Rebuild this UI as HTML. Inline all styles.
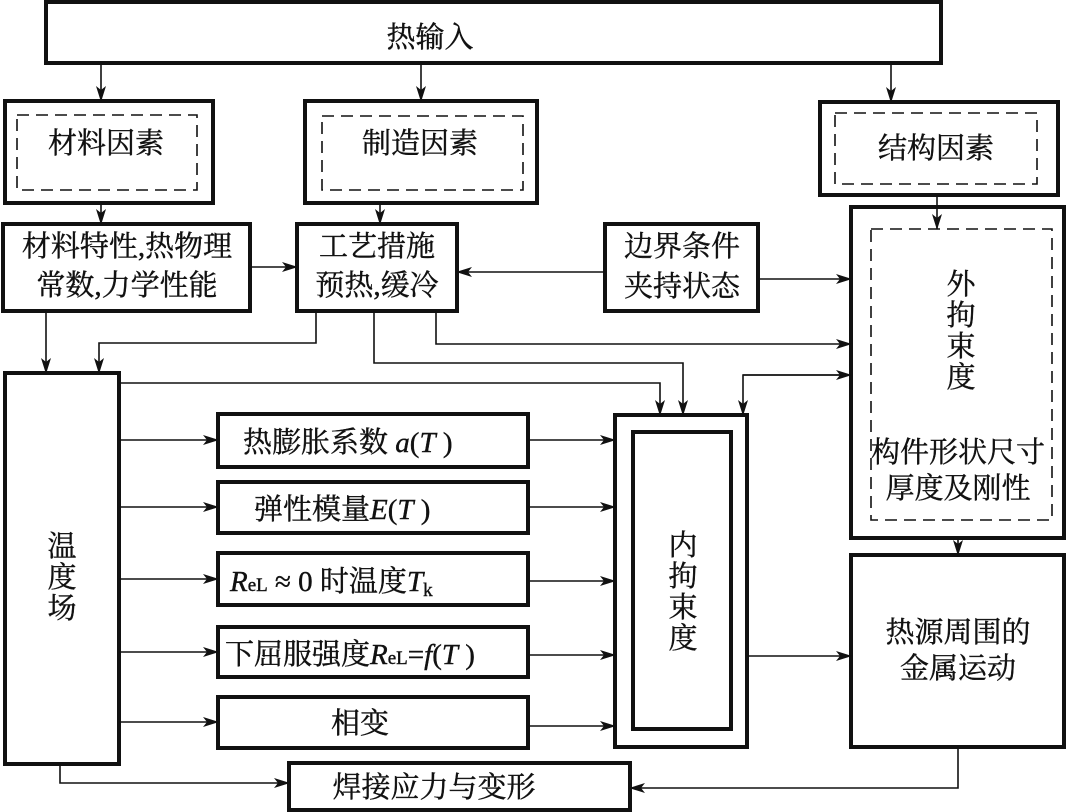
<!DOCTYPE html>
<html><head><meta charset="utf-8"><style>
html,body{margin:0;padding:0;background:#fff}
svg{display:block}
text{font-family:"Liberation Serif","Noto Serif CJK SC","Noto Sans CJK SC",serif;font-size:29px;fill:#111;stroke:#111;stroke-width:0.4}
.i{font-family:"Liberation Serif",serif;font-style:italic}
</style></head><body>
<svg width="1067" height="812" viewBox="0 0 1067 812" xmlns="http://www.w3.org/2000/svg">
<defs>
<marker id="a" markerUnits="userSpaceOnUse" markerWidth="16" markerHeight="10" refX="15" refY="5" orient="auto">
<path d="M0,0 L16,5 L0,10 L4,5 z" fill="#111"/>
</marker>
</defs>
<g fill="none" stroke="#111" stroke-width="4">
<rect x="46" y="2" width="895" height="61"/>
<rect x="5" y="101" width="208" height="102"/>
<rect x="305" y="101" width="232" height="102"/>
<rect x="820" y="102" width="238" height="93"/>
<rect x="3" y="224" width="247" height="87"/>
<rect x="297" y="224" width="160" height="87"/>
<rect x="605" y="224" width="153" height="87"/>
<rect x="851" y="207" width="213" height="331"/>
<rect x="5" y="373" width="114" height="391"/>
<rect x="218" y="414" width="310" height="53"/>
<rect x="218" y="482" width="310" height="51"/>
<rect x="218" y="553" width="310" height="52"/>
<rect x="218" y="627" width="310" height="50"/>
<rect x="218" y="697" width="310" height="51"/>
<rect x="615" y="415" width="132" height="332"/>
<rect x="633" y="432" width="98" height="297"/>
<rect x="851" y="555" width="213" height="192"/>
<rect x="289" y="763" width="341" height="47"/>
</g>
<g fill="none" stroke="#111" stroke-width="1.6" stroke-dasharray="12,7">
<rect x="17" y="115" width="180" height="75"/>
<rect x="322" y="116" width="201" height="74"/>
<rect x="835" y="113" width="202" height="71"/>
<rect x="871" y="229" width="181" height="291"/>
</g>
<g fill="none" stroke="#111" stroke-width="1.6" marker-end="url(#a)">
<line x1="101" y1="63" x2="101" y2="101"/>
<line x1="421" y1="63" x2="421" y2="101"/>
<line x1="891" y1="63" x2="891" y2="102"/>
<line x1="101" y1="203" x2="101" y2="224"/>
<line x1="380" y1="203" x2="380" y2="224"/>
<line x1="937" y1="195" x2="937" y2="229"/>
<line x1="250" y1="267" x2="297" y2="267"/>
<line x1="605" y1="272" x2="457" y2="272"/>
<line x1="758" y1="279" x2="851" y2="279"/>
<line x1="46" y1="311" x2="46" y2="373"/>
<polyline points="316,311 316,343 99,343 99,373"/>
<polyline points="374,311 374,363 683,363 683,415"/>
<polyline points="436,311 436,344 851,344"/>
<polyline points="119,383 660,383 660,415"/>
<polyline points="851,375 743,375 743,415"/>
<line x1="743" y1="375" x2="851" y2="375"/>
<line x1="119" y1="440" x2="218" y2="440"/>
<line x1="119" y1="507" x2="218" y2="507"/>
<line x1="119" y1="579" x2="218" y2="579"/>
<line x1="119" y1="652" x2="218" y2="652"/>
<line x1="119" y1="722" x2="218" y2="722"/>
<line x1="528" y1="440" x2="615" y2="440"/>
<line x1="528" y1="507" x2="615" y2="507"/>
<line x1="528" y1="581" x2="615" y2="581"/>
<line x1="528" y1="655" x2="615" y2="655"/>
<line x1="528" y1="726" x2="615" y2="726"/>
<line x1="747" y1="656" x2="851" y2="656"/>
<line x1="958" y1="538" x2="958" y2="555"/>
<polyline points="60,764 60,783 289,783"/>
<polyline points="958,747 958,788 630,788"/>
</g>
<g text-anchor="middle">
<text x="430" y="47">热输入</text>
<text x="106" y="153">材料因素</text>
<text x="420" y="153">制造因素</text>
<text x="936" y="158">结构因素</text>
<text x="127" y="256">材料特性,热物理</text>
<text x="127" y="295">常数,力学性能</text>
<text x="377" y="256">工艺措施</text>
<text x="377" y="295">预热,缓冷</text>
<text x="682" y="256">边界条件</text>
<text x="682" y="296">夹持状态</text>
<text x="961" y="294">外</text>
<text x="961" y="325">拘</text>
<text x="961" y="356">束</text>
<text x="961" y="387">度</text>
<text x="958" y="462">构件形状尺寸</text>
<text x="958" y="498">厚度及刚性</text>
<text x="62" y="556">温</text>
<text x="62" y="587">度</text>
<text x="62" y="618">场</text>
<text x="683" y="555">内</text>
<text x="683" y="586">拘</text>
<text x="683" y="617">束</text>
<text x="683" y="648">度</text>
<text x="958" y="642">热源周围的</text>
<text x="958" y="678">金属运动</text>
<text x="434" y="797">焊接应力与变形</text>
<text x="360" y="733">相变</text>
</g>
<text x="243" y="452">热膨胀系数<tspan class="i"> a</tspan>(<tspan class="i">T</tspan> )</text>
<text x="254" y="519">弹性模量<tspan class="i">E</tspan>(<tspan class="i">T</tspan> )</text>
<text x="230" y="591"><tspan class="i">R</tspan><tspan font-size="19">eL</tspan> ≈ 0 时温度<tspan class="i">T</tspan><tspan font-size="19" dy="5">k</tspan></text>
<text x="225" y="664">下屈服强度<tspan class="i">R</tspan><tspan font-size="19">eL</tspan>=<tspan class="i">f</tspan>(<tspan class="i">T</tspan> )</text>
</svg>
</body></html>
